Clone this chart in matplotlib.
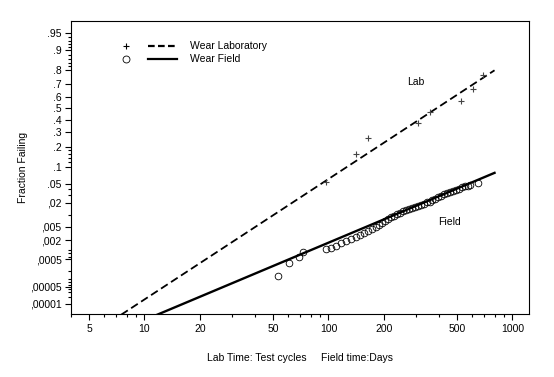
from statistics import NormalDist
import numpy as np
import matplotlib
matplotlib.use('Agg')
from matplotlib import pyplot as plt

# lab test: cycles to failure and plotting positions
lab_cycles = [96.7, 140.6, 165, 305, 356, 529, 608, 692]
lab_frac = [0.0535, 0.159, 0.262, 0.373, 0.471, 0.567, 0.666, 0.767]

# field returns: days and fraction failing
field_days = [53.2, 61.4, 69.5, 72.3, 96.7, 102.9, 109.6, 116.6, 124.2, 132.2,
              140.7, 147.9, 155.5, 163.5, 171.9, 180.8, 187.7, 194.8, 202.2, 209.9,
              217.9, 226.2, 234.8, 243.8, 253.1, 262.7, 272.7, 283.1, 294.0, 305.2,
              316.8, 328.9, 341.4, 354.4, 367.9, 381.9, 396.5, 411.6, 427.3, 443.6,
              460.4, 478.0, 496.2, 515.1, 534.7, 555.1, 576.2, 590.9, 647]
field_frac = [1.25e-4, 3.65e-4, 6.1e-4, 8.9e-4, 1.08e-3, 1.19e-3, 1.39e-3, 1.66e-3,
              1.91e-3, 2.27e-3, 2.60e-3, 2.98e-3, 3.40e-3, 3.87e-3, 4.41e-3, 5.0e-3,
              5.67e-3, 6.41e-3, 7.24e-3, 8.17e-3, 8.92e-3, 9.75e-3, 1.064e-2, 1.16e-2,
              1.26e-2, 1.37e-2, 1.45e-2, 1.53e-2, 1.62e-2, 1.71e-2, 1.80e-2, 1.90e-2,
              2.01e-2, 2.11e-2, 2.29e-2, 2.47e-2, 2.67e-2, 2.87e-2, 3.10e-2, 3.33e-2,
              3.50e-2, 3.67e-2, 3.84e-2, 4.03e-2, 4.23e-2, 4.43e-2, 4.63e-2, 4.85e-2,
              5.11e-2]

# lognormal fits (median, sigma)
lab_fit = (386.0, 0.877)
field_fit = (5447.0, 1.365)
fit_end = 800

y_ticks = [.95, .9, .8, .7, .6, .5, .4, .3, .2, .1, .05, .02, .005, .002, .0005, .00005, .00001]
y_labels = ['.95', '.9', '.8', '.7', '.6', '.5', '.4', '.3', '.2', '.1', '.05',
            ',02', ',005', ',002', ',0005', ',00005', ',00001']
y_minor = [.94, .93, .92, .91, .88, .86, .84, .82, .18, .16, .14, .12, .04, .03, .01,
           .001, .0008, .0006, .0002, .0001, .00008, .00006, .00004, .00003, .00002]
x_ticks = [5, 10, 20, 50, 100, 200, 500, 1000]

nd = NormalDist()
_ppf = np.vectorize(lambda p: nd.inv_cdf(min(max(p, 1e-12), 1 - 1e-12)))
_cdf = np.vectorize(nd.cdf)


def fwd(p):
    return _ppf(np.asarray(p, dtype=float))


def inv(z):
    return _cdf(np.asarray(z, dtype=float))


plt.rcParams['font.family'] = ['Liberation Sans', 'DejaVu Sans']
plt.rcParams['font.size'] = 7.5

fig = plt.figure(figsize=(5.54, 3.77), dpi=100)
ax = fig.add_axes([0.1287, 0.167, 0.8267, 0.7773])
ax.set_xscale('log')
ax.set_yscale('function', functions=(fwd, inv))

t = np.logspace(np.log10(4), np.log10(fit_end), 200)
for (med, sig), style, lw in [(lab_fit, (0, (4.4, 2.2)), 1.3), (field_fit, '-', 1.7)]:
    f = inv(np.log(t / med) / sig)
    ax.plot(t, f, color='black', linestyle=style, lw=lw)

ax.plot(lab_cycles, lab_frac, '+', color='#444444', ms=5, mew=0.8)
ax.plot(field_days, field_frac, 'o', mfc='none', mec='black', ms=4.8, mew=0.6)

ax.set_xlim(4, 1236)
ax.set_ylim(inv(-4.484), inv(1.906))
ax.set_xticks(x_ticks)
ax.set_xticklabels([str(v) for v in x_ticks])
ax.set_yticks(y_ticks)
ax.set_yticklabels(y_labels)
ax.set_yticks(y_minor, minor=True)
ax.tick_params(which='major', length=4, width=0.8, pad=3)
ax.tick_params(which='minor', length=2.5, width=0.8)
for s in ax.spines.values():
    s.set_linewidth(0.8)

ax.set_xlabel('Lab Time: Test cycles     Field time:Days', labelpad=14)
ax.set_ylabel('Fraction Failing', labelpad=1)

ax.text(298, 0.72, 'Lab', ha='center', va='center')
ax.text(456, 0.0067, 'Field', ha='center', va='center')

# legend, drawn by hand
ax.plot([0.119], [0.916], '+', color='black', ms=5, mew=0.8, transform=ax.transAxes)
ax.plot([0.119], [0.870], 'o', mfc='none', mec='black', ms=5, mew=0.6, transform=ax.transAxes)
ax.plot([0.167, 0.231], [0.916, 0.916], color='black', lw=1.6, ls=(0, (3, 1.5)),
        transform=ax.transAxes)
ax.plot([0.167, 0.231], [0.870, 0.870], color='black', lw=1.6, transform=ax.transAxes)
ax.text(0.259, 0.916, 'Wear Laboratory', va='center', transform=ax.transAxes)
ax.text(0.259, 0.870, 'Wear Field', va='center', transform=ax.transAxes)

fig.savefig('out.png', dpi=100)
